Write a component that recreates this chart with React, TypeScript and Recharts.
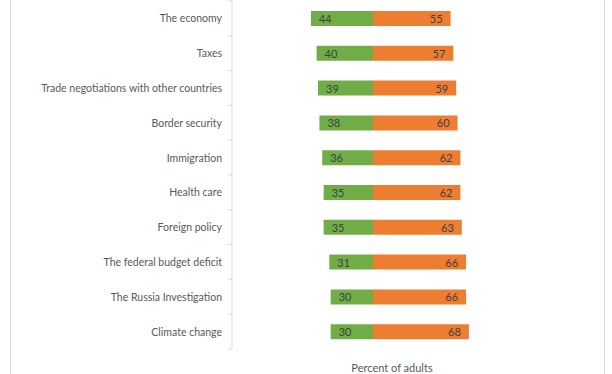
import { BarChart, Bar, XAxis, YAxis, LabelList } from "recharts";

// Approval of handling, by issue. Approve drawn to the left of zero, disapprove to the right.
const topics = [
  "The economy",
  "Taxes",
  "Trade negotiations with other countries",
  "Border security",
  "Immigration",
  "Health care",
  "Foreign policy",
  "The federal budget deficit",
  "The Russia Investigation",
  "Climate change",
];
const approve = [44, 40, 39, 38, 36, 35, 35, 31, 30, 30];
const disapprove = [55, 57, 59, 60, 62, 62, 63, 66, 66, 68];

const data = topics.map((topic, i) => ({
  topic,
  approve: -approve[i],
  disapprove: disapprove[i],
}));

const W = 612;
const H = 374;
const AXIS_X = 232;
const PLOT_TOP = 1;
const X_AXIS_H = 25;
const BAND = (H - X_AXIS_H - PLOT_TOP) / topics.length;
const FONT = "Lato, 'Open Sans', sans-serif";

function TopicTick(props: any) {
  const { x, y, payload, index } = props;
  const top = y - BAND / 2;
  const bottom = y + BAND / 2;
  return (
    <g>
      <text
        x={x}
        y={y}
        textAnchor="end"
        dominantBaseline="central"
        fill="#595959"
        fontSize={10.5}
        fontFamily={FONT}
      >
        {payload.value}
      </text>
      <line x1={AXIS_X - 4} x2={AXIS_X} y1={top} y2={top} stroke="#d9d9d9" />
      {index === topics.length - 1 && (
        <line x1={AXIS_X - 4} x2={AXIS_X} y1={bottom} y2={bottom} stroke="#d9d9d9" />
      )}
    </g>
  );
}

const valueLabel = (side: "left" | "right") => (props: any) => {
  const { x, y, width, height, value } = props;
  const left = Math.min(x, x + width);
  const right = Math.max(x, x + width);
  return (
    <text
      x={side === "left" ? left + 8 : right - 8}
      y={y + height / 2}
      textAnchor={side === "left" ? "start" : "end"}
      dominantBaseline="central"
      fill="#404040"
      fontSize={11}
      fontFamily={FONT}
    >
      {Math.abs(value)}
    </text>
  );
};

export default function App() {
  return (
    <div
      style={{
        position: "absolute",
        left: 0,
        top: 0,
        width: W,
        height: H,
        overflow: "hidden",
        background: "#fff",
        fontFamily: FONT,
      }}
    >
      <div
        style={{
          position: "absolute",
          left: 10,
          top: -10,
          width: 593,
          height: H + 20,
          border: "1px solid #d9d9d9",
        }}
      />
      <div style={{ position: "absolute", left: 0, top: 0 }}>
        <BarChart
          width={W}
          height={H}
          data={data}
          layout="vertical"
          stackOffset="sign"
          barSize={15}
          margin={{ top: PLOT_TOP, right: 98, bottom: 0, left: 0 }}
        >
          <XAxis
            type="number"
            domain={[-100, 100]}
            height={X_AXIS_H}
            axisLine={false}
            tickLine={false}
            tick={false}
            label={{
              value: "Percent of adults",
              position: "insideBottom",
              offset: 2,
              dx: 19,
              fill: "#595959",
              fontSize: 11,
              fontFamily: FONT,
            }}
          />
          <YAxis
            type="category"
            dataKey="topic"
            width={AXIS_X}
            axisLine={{ stroke: "#d9d9d9" }}
            tickLine={false}
            tickMargin={4}
            interval={0}
            tick={<TopicTick />}
          />
          <Bar dataKey="approve" stackId="a" fill="#70ad47" isAnimationActive={false}>
            <LabelList dataKey="approve" content={valueLabel("left")} />
          </Bar>
          <Bar dataKey="disapprove" stackId="a" fill="#ed7d31" isAnimationActive={false}>
            <LabelList dataKey="disapprove" content={valueLabel("right")} />
          </Bar>
        </BarChart>
      </div>
    </div>
  );
}
